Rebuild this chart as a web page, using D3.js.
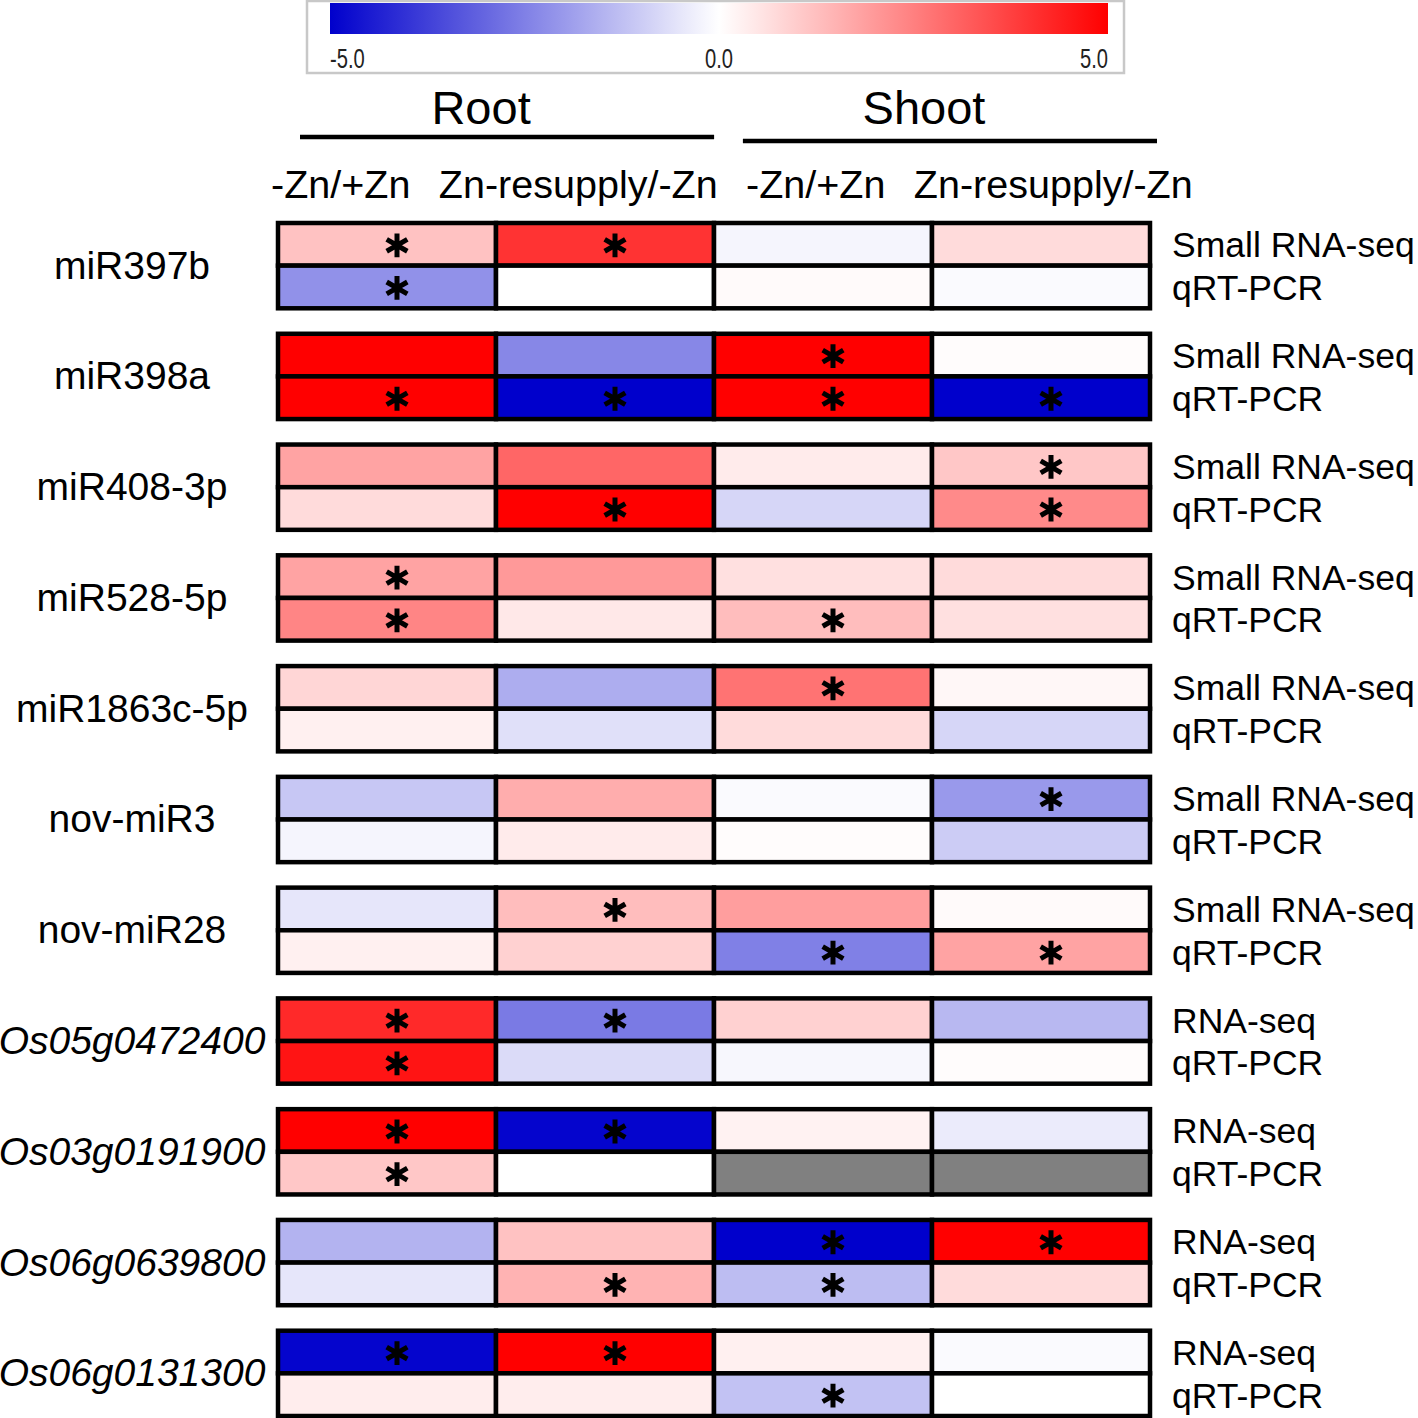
<!DOCTYPE html>
<html>
<head>
<meta charset="utf-8">
<script src="https://cdn.jsdelivr.net/npm/d3@7"></script>
<style>
  body { margin: 0; background: #fff; }
  svg { display: block; }
  text { font-family: "Liberation Sans", Arial, Helvetica, sans-serif; }
</style>
</head>
<body>
<svg id="chart" width="1418" height="1418"></svg>
<script>
// ---- data ----
const genes = ["miR397b", "miR398a", "miR408-3p", "miR528-5p", "miR1863c-5p", "nov-miR3", "nov-miR28",
  "Os05g0472400", "Os03g0191900", "Os06g0639800", "Os06g0131300"];
const italicGenes = ["Os05g0472400", "Os03g0191900", "Os06g0639800", "Os06g0131300"];
const columns = ["rootDef", "rootRes", "shootDef", "shootRes"];
const columnLabels = ["-Zn/+Zn", "Zn-resupply/-Zn", "-Zn/+Zn", "Zn-resupply/-Zn"];
const tissues = ["Root", "Shoot"];
const seqMethod = ["Small RNA-seq", "Small RNA-seq", "Small RNA-seq", "Small RNA-seq", "Small RNA-seq",
  "Small RNA-seq", "Small RNA-seq", "RNA-seq", "RNA-seq", "RNA-seq", "RNA-seq"];
const pcrMethod = "qRT-PCR";

// log2 fold change, first row of each block (sequencing)
const seqValues = [
  [1.2, 4.0, -0.2, 0.7],
  [5.0, -2.35, 5.0, 0.05],
  [1.8, 3.0, 0.4, 1.1],
  [1.8, 2.0, 0.6, 0.7],
  [0.8, -1.6, 2.75, 0.15],
  [-1.1, 1.6, -0.1, -2.0],
  [-0.5, 1.3, 1.9, 0.1],
  [4.2, -2.6, 0.9, -1.4],
  [5.0, -4.9, 0.25, -0.4],
  [-1.5, 1.2, -5.0, 5.0],
  [-4.9, 5.0, 0.3, -0.1]
];
// second row of each block (qRT-PCR), null = not measured
const pcrValues = [
  [-2.15, 0.0, 0.1, -0.1],
  [5.0, -5.0, 5.0, -5.0],
  [0.7, 5.0, -0.8, 2.3],
  [2.4, 0.45, 1.3, 0.6],
  [0.3, -0.6, 0.7, -0.8],
  [-0.2, 0.4, 0.05, -1.0],
  [0.3, 0.9, -2.5, 1.8],
  [4.6, -0.7, -0.15, 0.05],
  [1.1, 0.0, null, null],
  [-0.5, 1.5, -1.3, 0.7],
  [0.35, 0.35, -1.2, 0.0]
];
// significance marks (asterisks)
const seqSig = [
  [1, 1, 0, 0], [0, 0, 1, 0], [0, 0, 0, 1], [1, 0, 0, 0], [0, 0, 1, 0], [0, 0, 0, 1],
  [0, 1, 0, 0], [1, 1, 0, 0], [1, 1, 0, 0], [0, 0, 1, 1], [1, 1, 0, 0]
];
const pcrSig = [
  [1, 0, 0, 0], [1, 1, 1, 1], [0, 1, 0, 1], [1, 0, 1, 0], [0, 0, 0, 0], [0, 0, 0, 0],
  [0, 0, 1, 1], [1, 0, 0, 0], [1, 0, 0, 0], [0, 1, 1, 0], [0, 0, 1, 0]
];
const legendTicks = [-5, 0, 5];

// ---- scales ----
const svg = d3.select("#chart");

const color = d3.scaleLinear()
  .domain([-5, 0, 5])
  .range(["#0000cc", "#ffffff", "#ff0000"])
  .clamp(true);

const x = d3.scaleBand().domain(columns).range([278, 1150]);
const yBlock = d3.scaleBand().domain(genes).range([223, 1416]).paddingInner(0.23);
const yRow = d3.scaleBand().domain(["seq", "pcr"]).range([0, yBlock.bandwidth()]);
const xHeader = d3.scaleBand().domain(d3.range(4)).range([222, 1172]);
const xTissue = d3.scaleBand().domain(tissues).range([300, 1157]).paddingInner(0.065);

// ---- legend ----
const legendX = d3.scaleLinear().domain([-5, 5]).range([330, 1108]);

const defs = svg.append("defs");
const grad = defs.append("linearGradient").attr("id", "lg");
d3.range(-5, 5.01, 0.5).forEach(v => {
  grad.append("stop")
    .attr("offset", ((v + 5) / 10 * 100) + "%")
    .attr("stop-color", color(v));
});

svg.append("rect")
  .attr("x", 307).attr("y", 1)
  .attr("width", 817).attr("height", 72)
  .attr("fill", "#fff")
  .attr("stroke", "#c8c8c8")
  .attr("stroke-width", 2.5);

svg.append("rect")
  .attr("x", legendX(-5)).attr("y", 3)
  .attr("width", legendX(5) - legendX(-5)).attr("height", 31)
  .attr("fill", "url(#lg)");

svg.selectAll(".ltick")
  .data(legendTicks)
  .enter().append("text")
  .attr("class", "ltick")
  .attr("transform", d => "translate(" + legendX(d) + ",68) scale(0.72,1)")
  .attr("text-anchor", d => d < 0 ? "start" : d > 0 ? "end" : "middle")
  .style("font-size", "28px")
  .style("fill", "#222")
  .text(d => d.toFixed(1));

// ---- tissue headers ----
svg.selectAll(".tissue")
  .data(tissues)
  .enter().append("text")
  .attr("class", "tissue")
  .attr("x", d => xTissue(d) + xTissue.bandwidth() / 2 - 26)
  .attr("y", 124)
  .attr("text-anchor", "middle")
  .style("font-size", "47px")
  .text(d => d);

svg.selectAll(".tline")
  .data(tissues)
  .enter().append("line")
  .attr("class", "tline")
  .attr("x1", d => xTissue(d))
  .attr("x2", d => xTissue(d) + xTissue.bandwidth())
  .attr("y1", (d, i) => 137 + i * 4)
  .attr("y2", (d, i) => 137 + i * 4)
  .attr("stroke", "#000")
  .attr("stroke-width", 4.5);

svg.selectAll(".clabel")
  .data(columnLabels)
  .enter().append("text")
  .attr("class", "clabel")
  .attr("x", (d, i) => xHeader(i) + xHeader.bandwidth() / 2)
  .attr("y", 198)
  .attr("text-anchor", "middle")
  .style("font-size", "39.5px")
  .text(d => d);

// ---- blocks ----
const blocks = svg.selectAll(".block")
  .data(genes)
  .enter().append("g")
  .attr("class", "block")
  .attr("transform", d => "translate(0," + yBlock(d) + ")");

blocks.each(function(gene, gi) {
  const g = d3.select(this);
  const cells = [];
  columns.forEach((c, ci) => {
    cells.push({row: "seq", col: c, v: seqValues[gi][ci], sig: seqSig[gi][ci]});
    cells.push({row: "pcr", col: c, v: pcrValues[gi][ci], sig: pcrSig[gi][ci]});
  });

  g.selectAll("rect")
    .data(cells)
    .enter().append("rect")
    .attr("x", d => x(d.col))
    .attr("y", d => yRow(d.row))
    .attr("width", x.bandwidth())
    .attr("height", yRow.bandwidth())
    .attr("fill", d => d.v === null ? "#808080" : color(d.v))
    .attr("stroke", "#000")
    .attr("stroke-width", 4.5);

  g.selectAll(".star")
    .data(cells.filter(d => d.sig))
    .enter().append("path")
    .attr("class", "star")
    .attr("transform", d => "translate(" + (x(d.col) + x.bandwidth() / 2 + 10) + "," + (yRow(d.row) + yRow.bandwidth() / 2 + 1) + ")")
    .attr("d", d3.symbol().type(d3.symbolAsterisk).size(400))
    .attr("fill", "none")
    .attr("stroke", "#000")
    .attr("stroke-width", 5);

  g.append("text")
    .attr("x", 132)
    .attr("y", yBlock.bandwidth() / 2 + 13)
    .attr("text-anchor", "middle")
    .style("font-size", "39px")
    .style("font-style", italicGenes.includes(gene) ? "italic" : "normal")
    .text(gene);

  // right-hand method labels, kept inside the page edge
  g.selectAll(".method")
    .data([seqMethod[gi], pcrMethod])
    .enter().append("text")
    .attr("class", "method")
    .attr("x", 1172)
    .attr("y", (d, i) => yRow(i === 0 ? "seq" : "pcr") + yRow.bandwidth() / 2 + 13)
    .style("font-size", "35.5px")
    .text(d => d);
});
</script>
</body>
</html>
